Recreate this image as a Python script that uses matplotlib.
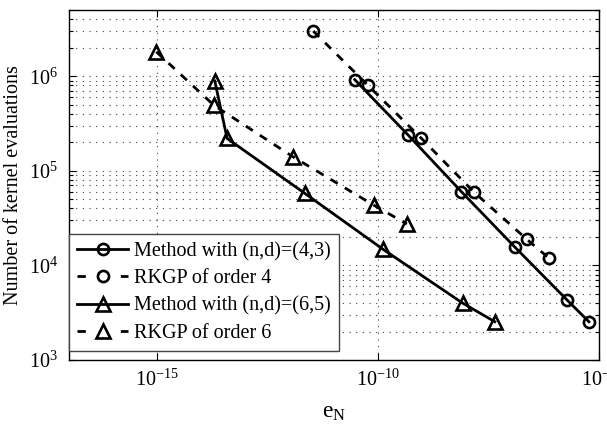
import matplotlib
matplotlib.use("Agg")
import matplotlib.pyplot as plt
from matplotlib.lines import Line2D
from matplotlib.ticker import LogLocator, NullLocator

plt.rcParams['font.family'] = ['Liberation Serif', 'DejaVu Serif']
plt.rcParams['mathtext.fontset'] = 'custom'
plt.rcParams['mathtext.rm'] = 'Liberation Serif'
plt.rcParams['mathtext.it'] = 'Liberation Serif:italic'
plt.rcParams['mathtext.bf'] = 'Liberation Serif:bold'

# Data
err_m43 = [2.95e-11, 4.8e-10, 7.7e-9, 1.23e-7, 1.9e-6, 5.9e-6]
kev_m43 = [9.2e5, 2.38e5, 6.0e4, 1.57e4, 4.3e3, 2.54e3]

err_rk4 = [3.39e-12, 5.89e-11, 9.55e-10, 1.45e-8, 2.34e-7, 7.41e-7]
kev_rk4 = [3.0e6, 8.0e5, 2.2e5, 6.0e4, 1.88e4, 1.19e4]

err_m65 = [2.0e-14, 3.8e-14, 2.19e-12, 1.29e-10, 8.13e-9, 4.37e-8]
kev_m65 = [8.9e5, 2.2e5, 5.77e4, 1.48e4, 4.0e3, 2.54e3]

err_rk6 = [9.5e-16, 1.9e-14, 1.17e-12, 7.9e-11, 4.47e-10]
kev_rk6 = [1.81e6, 4.94e5, 1.41e5, 4.34e4, 2.74e4]

labels = ['Method with (n,d)=(4,3)', 'RKGP of order 4',
          'Method with (n,d)=(6,5)', 'RKGP of order 6']
xticks = [1e-15, 1e-10, 1e-5]
yticks = [1e3, 1e4, 1e5, 1e6]

fig = plt.figure(figsize=(6.07, 4.28), dpi=100)
ax = fig.add_axes([69/607, 68/428, 530/607, 350/428])

lw = 2.0
mew = 1.9
dash = (0, (3, 3))
common = dict(color='black', linewidth=lw, markerfacecolor='none',
              markeredgecolor='black', markeredgewidth=mew, zorder=3)
ax.plot(err_m43, kev_m43, '-', marker='o', markersize=8, **common)
ax.plot(err_rk4, kev_rk4, marker='o', markersize=8, linestyle=dash, **common)
ax.plot(err_m65, kev_m65, '-', marker='^', markersize=10, **common)
ax.plot(err_rk6, kev_rk6, marker='^', markersize=10, linestyle=dash, **common)

ax.set_xscale('log')
ax.set_yscale('log')
ax.set_xlim(1e-17, 1e-5)
ax.set_ylim(1e3, 10**6.7)
ax.set_xticks(xticks)
ax.xaxis.set_minor_locator(NullLocator())
ax.set_yticks(yticks)
ax.yaxis.set_minor_locator(LogLocator(base=10, subs=range(2, 10), numticks=20))
ax.yaxis.set_minor_formatter(plt.NullFormatter())

grid_kw = dict(color='#444444', linestyle=(0, (1, 5)), linewidth=0.8)
ax.grid(True, which='major', axis='both', **grid_kw)
ax.grid(True, which='minor', axis='y', **grid_kw)
ax.set_axisbelow(True)

ax.tick_params(which='both', direction='in', top=True, right=True,
               labelsize=14.5, colors='black', width=0.8)
ax.tick_params(which='major', length=5, pad=7)
ax.tick_params(which='minor', length=3)
ax.tick_params(axis='y', pad=8)
for s in ax.spines.values():
    s.set_linewidth(1.0)
    s.set_color('black')

ax.set_xlabel(r'$\mathrm{e}_\mathrm{N}$', fontsize=17, labelpad=8)
ax.set_ylabel('Number of kernel evaluations', fontsize=14.5, labelpad=4)

# legend proxies: dashed handles look like "- o -"
leg_dash = (0, (3, 12.6))
handles = [
    Line2D([], [], linestyle='-', marker='o', markersize=8, **common),
    Line2D([], [], linestyle=leg_dash, marker='o', markersize=8, **common),
    Line2D([], [], linestyle='-', marker='^', markersize=10, **common),
    Line2D([], [], linestyle=leg_dash, marker='^', markersize=10, **common),
]
leg = ax.legend(handles, labels, loc='lower left', bbox_to_anchor=(0.0, 0.026),
                fontsize=14.5, handlelength=2.55, handletextpad=0.3,
                borderpad=0.4, labelspacing=0.4, borderaxespad=0.0,
                fancybox=False, framealpha=1.0, edgecolor='#444444')
leg.get_frame().set_linewidth(1.0)

fig.savefig('out.png', dpi=100)
